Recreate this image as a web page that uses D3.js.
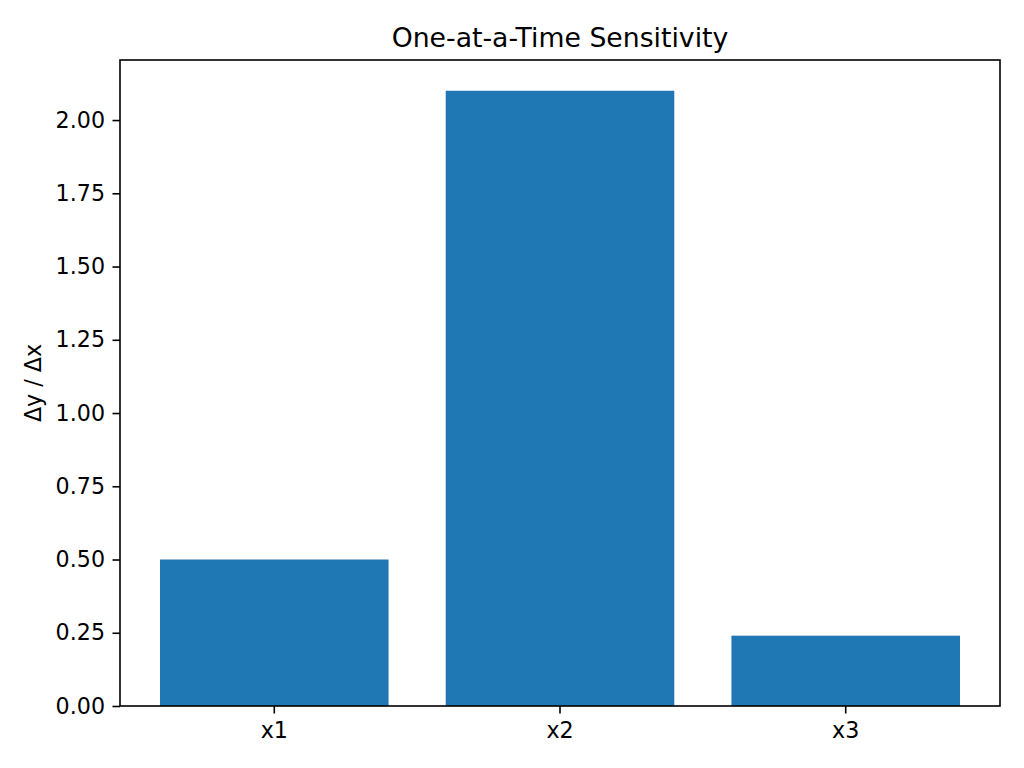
<!DOCTYPE html>
<html>
<head>
<meta charset="utf-8">
<script src="https://cdn.jsdelivr.net/npm/d3@7"></script>
<style>
  body { margin: 0; background: #fff; }
  svg { display: block; }
  text { font-family: "DejaVu Sans", sans-serif; fill: #000; }
</style>
</head>
<body>
<div id="chart"></div>
<script>
// data
var categories = ["x1", "x2", "x3"];
var sensitivity = [0.5, 2.1, 0.24];
var yTicks = [0, 0.25, 0.5, 0.75, 1.0, 1.25, 1.5, 1.75, 2.0];

var W = 1024, H = 768;
var plotLeft = 120, plotRight = 1000, plotTop = 60, plotBottom = 706;
var tickLen = 7.5, tickPad = 7.5;
var fontSize = 22.2;

var svg = d3.select("#chart")
    .append("svg")
    .attr("width", W)
    .attr("height", H);

// matplotlib style: 0.8 wide bars, 5% margins
var x = d3.scaleBand()
    .domain(categories)
    .range([plotLeft, plotRight])
    .paddingInner(0.2)
    .paddingOuter(0.14);

var yMax = d3.max(sensitivity) * 1.05;
var y = d3.scaleLinear()
    .domain([0, yMax])
    .range([plotBottom, plotTop]);

svg.selectAll("rect.bar")
    .data(sensitivity)
    .enter()
    .append("rect")
    .attr("class", "bar")
    .attr("x", function(d, i) { return x(categories[i]); })
    .attr("width", x.bandwidth())
    .attr("y", function(d) { return y(d); })
    .attr("height", function(d) { return y(0) - y(d); })
    .attr("fill", "#1f77b4");

// y axis
var yAxis = d3.axisLeft(y)
    .tickValues(yTicks)
    .tickFormat(d3.format(".2f"))
    .tickSize(tickLen)
    .tickPadding(tickPad);

var gy = svg.append("g")
    .attr("transform", "translate(" + plotLeft + ",0)")
    .call(yAxis);
gy.select(".domain").remove();
gy.selectAll("line").attr("stroke", "#000").attr("stroke-width", 1.6);
gy.selectAll("text")
    .attr("font-size", fontSize + "px")
    .attr("font-family", "DejaVu Sans")
    .attr("fill", "#000");

// x axis
var xAxis = d3.axisBottom(x)
    .tickSize(tickLen)
    .tickPadding(tickPad + 1);

var gx = svg.append("g")
    .attr("transform", "translate(0," + plotBottom + ")")
    .call(xAxis);
gx.select(".domain").remove();
gx.selectAll("line").attr("stroke", "#000").attr("stroke-width", 1.6);
gx.selectAll("text")
    .attr("font-size", fontSize + "px")
    .attr("font-family", "DejaVu Sans")
    .attr("fill", "#000");

// frame
svg.append("rect")
    .attr("x", plotLeft)
    .attr("y", plotTop)
    .attr("width", plotRight - plotLeft)
    .attr("height", plotBottom - plotTop)
    .attr("fill", "none")
    .attr("stroke", "#000")
    .attr("stroke-width", 1.6);

// title
svg.append("text")
    .attr("x", (plotLeft + plotRight) / 2)
    .attr("y", 47)
    .attr("text-anchor", "middle")
    .attr("font-size", "26.7px")
    .text("One-at-a-Time Sensitivity");

// y label
svg.append("text")
    .attr("transform", "translate(41," + ((plotTop + plotBottom) / 2) + ") rotate(-90)")
    .attr("text-anchor", "middle")
    .attr("font-size", fontSize + "px")
    .text("Δy / Δx");
</script>
</body>
</html>
